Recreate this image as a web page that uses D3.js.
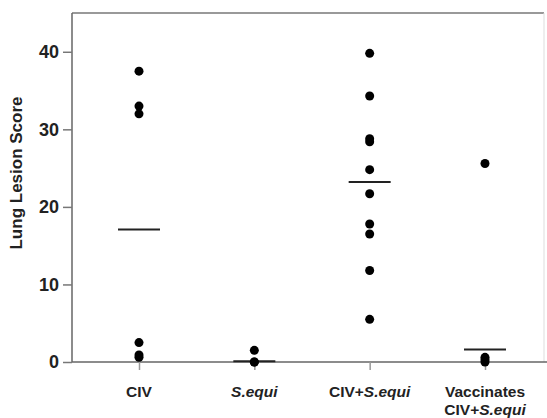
<!DOCTYPE html>
<html>
<head>
<meta charset="utf-8">
<script src="https://cdn.jsdelivr.net/npm/d3@7"></script>
<style>
  body { margin: 0; background: #fff; }
  svg { display: block; font-family: "Liberation Sans", Arial, sans-serif; }
</style>
</head>
<body>
<svg id="chart" width="547" height="418"></svg>
<script>
// groups on the x axis
const groups = ['CIV', 'S.equi', 'CIV+S.equi', 'Vaccinates'];

// individual lung lesion scores
const civScores = [37.5, 33, 32, 2.5, 0.9, 0.6];
const sequiScores = [1.5, 0, 0];
const civSequiScores = [39.8, 34.3, 28.8, 28.4, 24.8, 21.7, 17.8, 16.5, 11.8, 5.5];
const vaccScores = [25.6, 0.6, 0.3, 0];

// horizontal mean bars
const groupMeans = [17.1, 0.1, 23.2, 1.6];

const yTicks = [0, 10, 20, 30, 40];

const svg = d3.select('#chart');
const plotLeft = 72, plotRight = 544, plotTop = 13, plotBottom = 362;

const x = d3.scalePoint().domain(groups).range([139, 485]);
const y = d3.scaleLinear().domain([0, 45]).range([plotBottom, plotTop]);

// frame: top and faint right edge
svg.append('line')
  .attr('x1', plotLeft).attr('x2', plotRight)
  .attr('y1', plotTop).attr('y2', plotTop)
  .attr('stroke', '#777').attr('stroke-width', 1.5);
svg.append('line')
  .attr('x1', plotRight).attr('x2', plotRight)
  .attr('y1', plotTop).attr('y2', plotBottom)
  .attr('stroke', '#ddd').attr('stroke-width', 1);

// y axis
const yAxis = d3.axisLeft(y).tickValues(yTicks).tickSize(9).tickPadding(4);
const gy = svg.append('g')
  .attr('transform', 'translate(' + plotLeft + ',0)')
  .call(yAxis);
gy.select('.domain').attr('stroke', '#666').attr('stroke-width', 1.5)
  .attr('d', 'M0,' + plotBottom + 'V' + plotTop);
gy.selectAll('.tick line').attr('stroke', '#777').attr('stroke-width', 1.5);
gy.selectAll('.tick text')
  .attr('fill', '#222')
  .style('font-size', '18px')
  .style('font-weight', 'bold');

// x axis
const xAxis = d3.axisBottom(x).tickSize(8).tickFormat('');
const gx = svg.append('g')
  .attr('transform', 'translate(0,' + plotBottom + ')')
  .call(xAxis);
gx.select('.domain').attr('stroke', '#666').attr('stroke-width', 1.5)
  .attr('d', 'M' + plotLeft + ',0H547');
gx.selectAll('.tick line').attr('stroke', '#999').attr('stroke-width', 1.5);

// category labels, species names in italics
const labelLines = {
  'CIV': [[['CIV', false]]],
  'S.equi': [[['S.equi', true]]],
  'CIV+S.equi': [[['CIV+', false], ['S.equi', true]]],
  'Vaccinates': [[['Vaccinates', false]], [['CIV+', false], ['S.equi', true]]]
};
groups.forEach(g => {
  labelLines[g].forEach((line, i) => {
    const t = svg.append('text')
      .attr('x', x(g))
      .attr('y', 397 + i * 18)
      .attr('text-anchor', 'middle')
      .attr('fill', '#222')
      .style('font-size', '15.5px')
      .style('font-weight', 'bold');
    line.forEach(([s, it]) => {
      t.append('tspan').text(s).style('font-style', it ? 'italic' : 'normal');
    });
  });
});

// y title
svg.append('text')
  .attr('transform', 'translate(22,173) rotate(-90)')
  .attr('text-anchor', 'middle')
  .attr('fill', '#222')
  .style('font-size', '17px')
  .style('font-weight', 'bold')
  .text('Lung Lesion Score');

// mean bars
svg.selectAll('line.mean')
  .data(groupMeans)
  .enter()
  .append('line')
  .attr('class', 'mean')
  .attr('x1', (d, i) => x(groups[i]) - 21)
  .attr('x2', (d, i) => x(groups[i]) + 21)
  .attr('y1', d => y(d))
  .attr('y2', d => y(d))
  .attr('stroke', '#222')
  .attr('stroke-width', 2);

// points
const points = [];
[civScores, sequiScores, civSequiScores, vaccScores].forEach((arr, i) => {
  arr.forEach(v => points.push({group: groups[i], value: v}));
});
svg.selectAll('circle.point')
  .data(points)
  .enter()
  .append('circle')
  .attr('class', 'point')
  .attr('cx', d => x(d.group))
  .attr('cy', d => y(d.value))
  .attr('r', 4.5)
  .attr('fill', '#000');
</script>
</body>
</html>
